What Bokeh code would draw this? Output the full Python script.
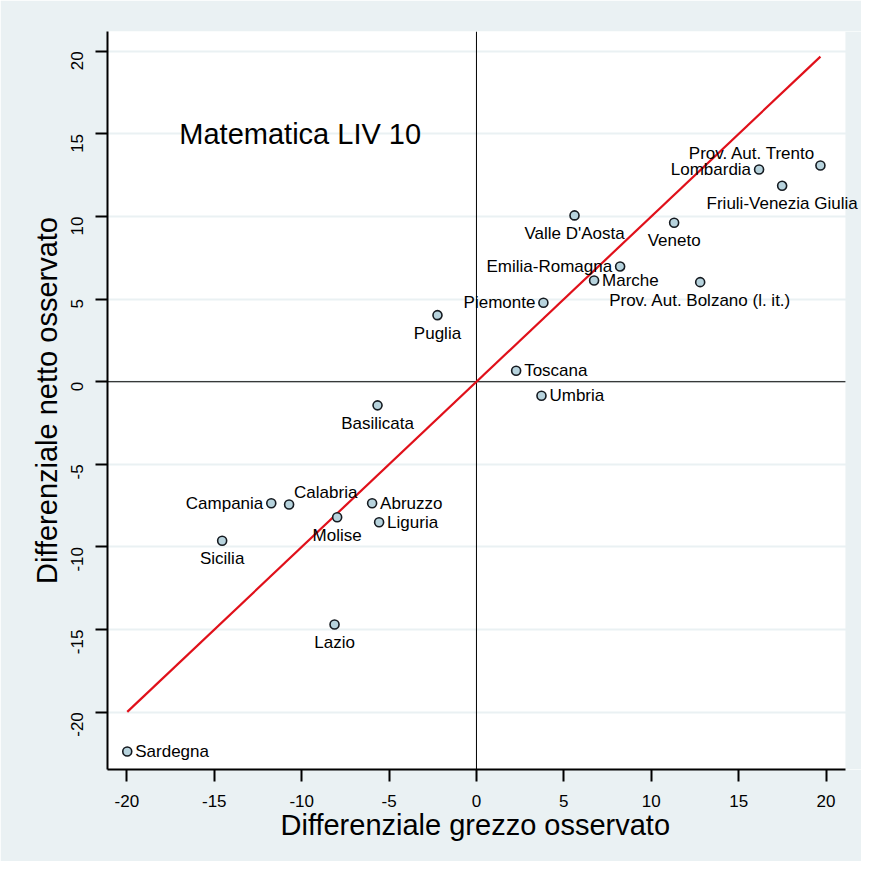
from bokeh.plotting import figure
from bokeh.models import (ColumnDataSource, Span, Label, FixedTicker, Range1d,
                          BoxAnnotation, Title)
from bokeh.embed import file_html
from bokeh.resources import INLINE
import math

# ---- data ----
regions = ["Prov. Aut. Trento", "Lombardia", "Friuli-Venezia Giulia", "Veneto",
           "Emilia-Romagna", "Marche", "Prov. Aut. Bolzano (l. it.)", "Piemonte",
           "Puglia", "Toscana", "Umbria", "Valle D'Aosta", "Basilicata", "Campania",
           "Calabria", "Abruzzo", "Liguria", "Molise", "Sicilia", "Lazio", "Sardegna"]
grezzo = [19.68, 16.17, 17.49, 11.31, 8.22, 6.73, 12.80, 3.83, -2.23, 2.27, 3.72,
          5.61, -5.66, -11.74, -10.72, -5.97, -5.57, -7.97, -14.55, -8.12, -19.98]
netto = [13.09, 12.85, 11.86, 9.62, 6.98, 6.13, 6.03, 4.78, 4.03, 0.67, -0.85,
         10.07, -1.43, -7.35, -7.43, -7.35, -8.50, -8.20, -9.62, -14.69, -22.38]
ticks = [-20, -15, -10, -5, 0, 5, 10, 15, 20]
tick_labels = ["-20", "-15", "-10", "-5", "0", "5", "10", "15", "20"]

# label placement (clock position style)
placement = {"Prov. Aut. Trento": "upleft", "Lombardia": "left",
             "Friuli-Venezia Giulia": "below", "Veneto": "below",
             "Emilia-Romagna": "left", "Marche": "right",
             "Prov. Aut. Bolzano (l. it.)": "below", "Piemonte": "left",
             "Puglia": "below", "Toscana": "right", "Umbria": "right",
             "Valle D'Aosta": "below", "Basilicata": "below", "Campania": "left",
             "Calabria": "upright", "Abruzzo": "right", "Liguria": "right",
             "Molise": "below", "Sicilia": "below", "Lazio": "below",
             "Sardegna": "right"}
# (align, dx right, dy up) in screen pixels
style = {"left": ("right", -8, 0), "right": ("left", 8, 0),
         "below": ("center", 0, -18), "upleft": ("right", -5, 12),
         "upright": ("left", 5, 12)}

src = ColumnDataSource(dict(x=grezzo, y=netto, name=regions))

BG = "#EAF1F3"
FONT = "Liberation Sans"
XMIN, XMAX = -21.11, 21.11      # visible plot region (white)

p = figure(width=861, height=861, output_backend="svg", toolbar_location=None,
           x_range=Range1d(XMIN, 22.03), y_range=Range1d(-23.47, 21.2),
           min_border_left=107, min_border_right=0, min_border_top=31, min_border_bottom=92,
           background_fill_color="white", border_fill_color=BG, outline_line_color=None)

p.xgrid.visible = False
p.ygrid.ticker = FixedTicker(ticks=ticks)
p.ygrid.grid_line_color = BG
p.ygrid.grid_line_width = 2

for ax in (p.xaxis[0], p.yaxis[0]):
    ax.ticker = FixedTicker(ticks=ticks)
    ax.major_label_overrides = {t: s for t, s in zip(ticks, tick_labels)}
    ax.axis_line_color = "black"
    ax.axis_line_width = 2
    ax.major_tick_line_color = "black"
    ax.major_tick_line_width = 2
    ax.major_tick_in = 0
    ax.major_tick_out = 12
    ax.minor_tick_line_color = None
    ax.major_label_text_font = FONT
    ax.major_label_text_font_size = "17px"
    ax.major_label_text_color = "black"
    ax.axis_label_text_font = FONT
    ax.axis_label_text_font_size = "29px"
    ax.axis_label_text_font_style = "normal"
    ax.axis_label_text_color = "black"

p.xaxis.bounds = (XMIN, XMAX)
p.xaxis.major_label_standoff = 13
p.yaxis.axis_label = "Differenziale netto osservato"
p.yaxis.major_label_orientation = math.pi / 2
p.yaxis.major_label_standoff = 18
p.yaxis.axis_label_standoff = 0

p.add_layout(Title(text="Differenziale grezzo osservato", align="left", offset=173,
                   text_font=FONT, text_font_size="29px", text_font_style="normal",
                   text_color="black", standoff=-5), "below")

p.add_layout(Span(location=0, dimension="height", line_color="black", line_width=1,
                  level="underlay"))
p.add_layout(Span(location=0, dimension="width", line_color="black", line_width=1,
                  level="underlay"))
# region right of the plot area keeps the page background colour
p.add_layout(BoxAnnotation(left=XMAX, fill_color=BG, fill_alpha=1, line_color=None,
                           level="underlay"))

lo, hi = min(grezzo), max(grezzo)
p.line([lo, hi], [lo, hi], line_color="#E0101A", line_width=2.2)

p.scatter("x", "y", source=src, size=9, marker="circle",
          fill_color="#B7D3DD", line_color="#151a20", line_width=1.6)

for gx, ny, name in zip(grezzo, netto, regions):
    a, dx, dy = style[placement[name]]
    p.add_layout(Label(x=gx, y=ny, text=name, text_align=a, text_baseline="middle",
                       x_offset=dx, y_offset=dy, text_font=FONT,
                       text_font_size="17px", text_color="black", level="overlay"))

p.add_layout(Label(x=-17, y=15, text="Matematica LIV 10", text_align="left",
                   text_baseline="middle", text_font=FONT, text_font_size="29px",
                   text_color="black"))

open("out.html", "w").write(file_html(p, INLINE))
